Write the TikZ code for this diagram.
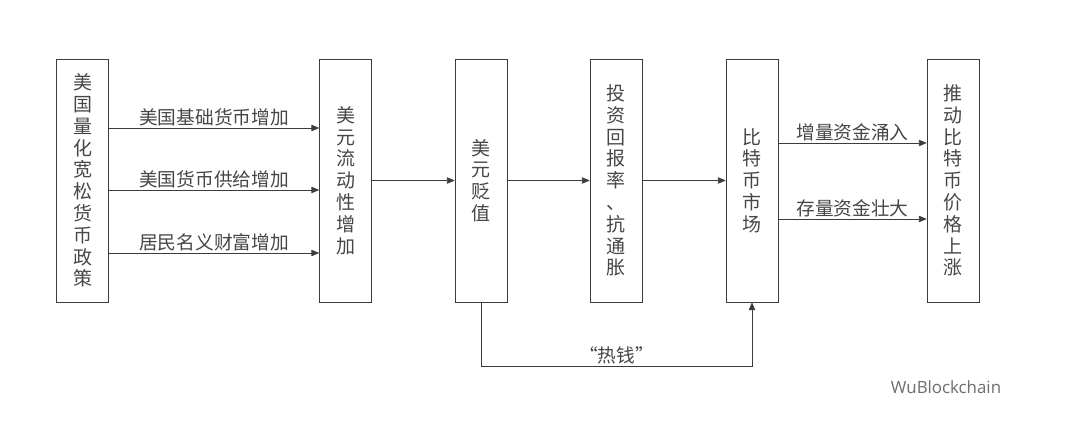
\documentclass[tikz,border=0pt]{standalone}
\usepackage{fontspec}
\newfontfamily\cjk{Noto Sans CJK SC}
\newfontfamily\markfont{Open Sans}
\usetikzlibrary{positioning}
\usetikzlibrary{arrows.meta}
\definecolor{myGray1}{RGB}{60,60,60}
\definecolor{myGray2}{RGB}{70,70,70}
\definecolor{myGray3}{RGB}{110,110,110}

\begin{document}
\begin{tikzpicture}[x=0.025cm,y=-0.025cm,->,>={Triangle[length=5.5pt,width=4.5pt]},
  thin,myGray1,box node/.style={rectangle,draw=myGray1,fill=white,text=myGray2,
  font=\cjk\fontsize{13.5}{15.5}\selectfont,align=center,inner sep=0pt,
  minimum width=1.3cm,minimum height=6.075cm},flow label/.style={text=myGray2,
  font=\cjk\fontsize{13.3}{15}\selectfont,inner sep=1.5pt}]

\useasboundingbox[fill=white] (0,0) rectangle (1080,428);

% The boxes
  \node[box node] (QE) at (82.5,180.5) {美\\国\\量\\化\\宽\\松\\货\\币\\政\\策};
  \node[box node] (Liquidity) at (345.5,180.5) {美\\元\\流\\动\\性\\增\\加};
  \node[box node] (Depreciation) at (481,180.5) {美\\元\\贬\\值};
  \node[box node] (Returns) at (616,180.5) {投\\资\\回\\报\\率\\、\\抗\\通\\胀};
  \node[box node] (Market) at (752,180.5) {比\\特\\币\\市\\场};
  \node[box node] (Price) at (953,180.5) {推\\动\\比\\特\\币\\价\\格\\上\\涨};
\node[text=myGray3,font=\markfont\fontsize{12}{14}\selectfont] (Mark) at (946,387) {WuBlockchain};

% The Arrows between the nodes
 \draw (QE.east |- 0,128) -- node[flow label,above] (Base) {美国基础货币增加} (Liquidity.west |- 0,128);
 \draw (QE.east |- 0,190) -- node[flow label,above] (Supply) {美国货币供给增加} (Liquidity.west |- 0,190);
 \draw (QE.east |- 0,253) -- node[flow label,above] (Wealth) {居民名义财富增加} (Liquidity.west |- 0,253);
 \draw (Liquidity) -- (Depreciation);
 \draw (Depreciation) -- (Returns);
 \draw (Returns) -- (Market);
 \draw (Market.east |- 0,143) -- node[flow label,above] (Inflow) {增量资金涌入} (Price.west |- 0,143);
 \draw (Market.east |- 0,219) -- node[flow label,above] (Stock) {存量资金壮大} (Price.west |- 0,219);
 \draw (Depreciation.south) -- ++(0,64) -| node[flow label,above,pos=0.25] (Hot) {“热钱”} (Market.south);

\end{tikzpicture}
\end{document}
